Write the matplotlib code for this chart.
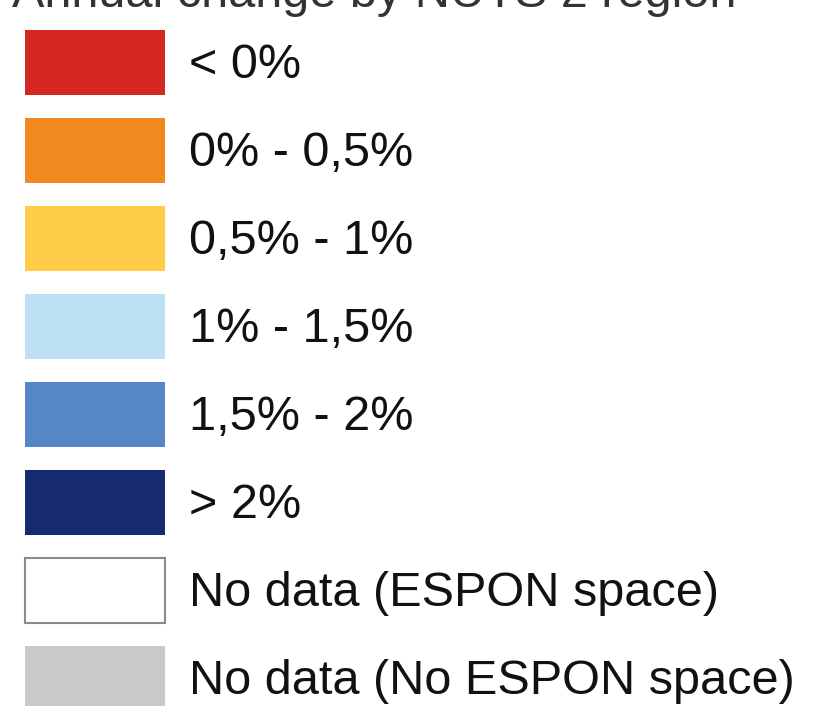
import matplotlib
matplotlib.use("Agg")
import matplotlib.pyplot as plt

labels = ["< 0%", "0% - 0,5%", "0,5% - 1%", "1% - 1,5%", "1,5% - 2%", "> 2%",
          "No data (ESPON space)", "No data (No ESPON space)"]
colors = ["#D3271F", "#F2891F", "#FECC46", "#BDE0F5", "#5686C6", "#162A6F",
          "#FFFFFF", "#C9C9C9"]
edges = ["none"] * 6 + ["#8A8A8A", "none"]
title = "Annual change by NUTS 2 region"

W, H = 818, 706
fig = plt.figure(figsize=(W / 100, H / 100), dpi=100)
ax = fig.add_axes([0, 0, 1, 1])
ax.set_xlim(0, W)
ax.set_ylim(H, 0)
ax.axis("off")

y0, pitch, h = 62, 88, 65
ys = [y0 + pitch * i for i in range(len(labels))]
ax.barh(ys, [140] * len(labels), left=25, height=h, color=colors,
        edgecolor=edges, linewidth=1.5)
for y, lab in zip(ys, labels):
    ax.text(189, y + 3, lab, fontsize=35, family="Liberation Sans",
            va="center", ha="left", color="#111111")

ax.text(12, 7, title, fontsize=35, family="Liberation Sans",
        va="baseline", ha="left", color="#333333")

fig.savefig("out.png", dpi=100)
